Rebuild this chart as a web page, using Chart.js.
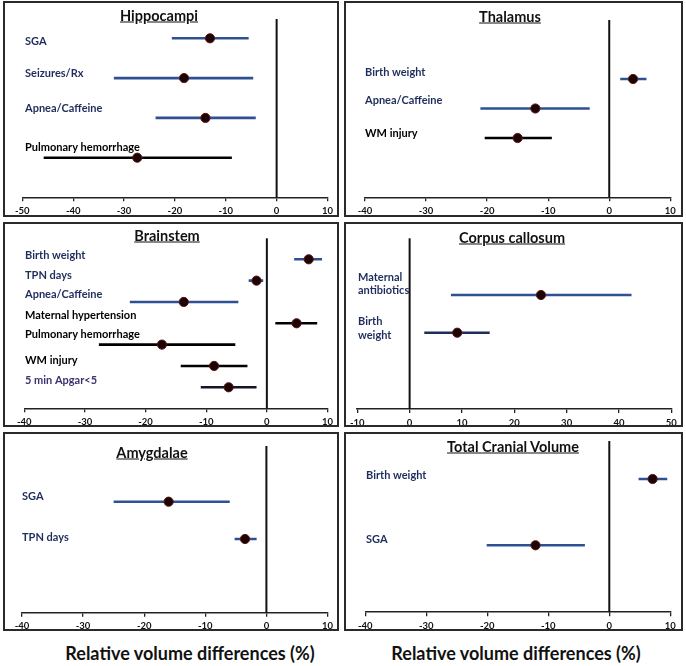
<!DOCTYPE html>
<html>
<head>
<meta charset="utf-8">
<script src="https://cdn.jsdelivr.net/npm/chart.js@4.4.1/dist/chart.umd.min.js"></script>
<style>
  body { margin: 0; background: #fff; width: 686px; height: 666px; position: relative; overflow: hidden; font-family: Lato, sans-serif; }
  .box { position: absolute; border: 2px solid #2a2a2a; box-sizing: border-box; background: #fff; }
  .box canvas { position: absolute; left: 0; top: 0; }
  .ttl { position: absolute; font-weight: 700; font-size: 14.5px; text-decoration: underline; transform: translate(-50%, -50%); white-space: nowrap; color: #111; }
  .xt { position: absolute; font-weight: 700; font-size: 18px; transform: translate(-50%, -50%); white-space: nowrap; color: #111; }
</style>
</head>
<body>
<div class="xt" style="left:190px;top:653px">Relative volume differences (%)</div>
<div class="xt" style="left:516px;top:653px">Relative volume differences (%)</div>
<script>
// Hippocampi
const hippoLabels = ['SGA', 'Seizures/Rx', 'Apnea/Caffeine', 'Pulmonary hemorrhage'];
const hippoMean = [-13.1, -18.2, -14.0, -27.4];
const hippoLow = [-20.6, -32.0, -23.8, -45.8];
const hippoHigh = [-5.5, -4.6, -4.1, -8.8];
const hippoRange = [-50, 10];

// Thalamus
const thalLabels = ['Birth weight', 'Apnea/Caffeine', 'WM injury'];
const thalMean = [3.9, -12.1, -15.0];
const thalLow = [1.8, -21.1, -20.4];
const thalHigh = [6.1, -3.2, -9.4];
const thalRange = [-40, 10];

// Brainstem
const brainLabels = ['Birth weight', 'TPN days', 'Apnea/Caffeine', 'Maternal hypertension', 'Pulmonary hemorrhage', 'WM injury', '5 min Apgar<5'];
const brainMean = [6.9, -1.7, -13.7, 4.9, -17.3, -8.7, -6.3];
const brainLow = [4.5, -3.0, -22.6, 1.4, -27.7, -14.2, -10.9];
const brainHigh = [9.1, -0.6, -4.7, 8.3, -5.2, -3.2, -1.7];
const brainRange = [-40, 10];

// Corpus callosum
const ccLabels = [['Maternal', 'antibiotics'], ['Birth', 'weight']];
const ccMean = [25.1, 9.1];
const ccLow = [7.9, 2.8];
const ccHigh = [42.4, 15.3];
const ccRange = [-10, 50];

// Amygdalae
const amyLabels = ['SGA', 'TPN days'];
const amyMean = [-16.0, -3.5];
const amyLow = [-25.0, -5.2];
const amyHigh = [-6.0, -1.6];
const amyRange = [-40, 10];

// Total Cranial Volume
const tcvLabels = ['Birth weight', 'SGA'];
const tcvMean = [7.1, -12.1];
const tcvLow = [4.8, -20.1];
const tcvHigh = [9.5, -4.0];
const tcvRange = [-40, 10];

// couleurs / placement (page px)
const BLUE = '#2f5193';
const NAVY = '#1f2d5c';
const BLACK = '#000';
const AXIS_H = 18;

const layouts = {
  hippo: { box: [3, 1, 336, 216], x0: 22.3, x1: 328.3, top: 19, bottom: 197.3, row0: 38.3, gap: 39.8, labelX: 25, title: [159, 15],
    shifts: [3.4, -4.3, -9, -10], colors: [BLUE, BLUE, BLUE, BLACK], text: [NAVY, NAVY, NAVY, BLACK] },
  thal: { box: [344, 1, 339, 216], x0: 365, x1: 670.3, top: 20, bottom: 197.3, row0: 79, gap: 29.5, labelX: 365, title: [510, 16],
    shifts: [-7, -8, -4.7], colors: [BLUE, BLUE, BLACK], text: [NAVY, NAVY, BLACK] },
  brain: { box: [3, 222, 336, 205], x0: 24.3, x1: 328.3, top: 238.3, bottom: 408.3, row0: 259.3, gap: 21.33, labelX: 25, title: [167, 235],
    shifts: [-4.3, -5, -8, -7.7, -9.7, -5.3, -6.6], colors: [BLUE, BLUE, BLUE, BLACK, BLACK, BLACK, '#15152a'],
    text: [NAVY, NAVY, NAVY, BLACK, BLACK, BLACK, '#3c3370'] },
  cc: { box: [344, 222, 339, 205], x0: 357, x1: 671.3, top: 238.3, bottom: 409, row0: 295, gap: 37.7, labelX: 358, title: [512, 237],
    shifts: [-4.3, 2.3], colors: [BLUE, NAVY], text: [NAVY, NAVY] },
  amy: { box: [3, 432, 336, 199], x0: 22, x1: 328.3, top: 446, bottom: 612.7, row0: 501.7, gap: 37.3, labelX: 22, title: [152, 452],
    shifts: [-5, -1.7], colors: [BLUE, BLUE], text: [NAVY, NAVY] },
  tcv: { box: [344, 432, 339, 199], x0: 365.3, x1: 670.3, top: 441, bottom: 612.3, row0: 479, gap: 66.3, labelX: 366, title: [513, 446],
    shifts: [-4, -6.3], colors: [BLUE, BLUE], text: [NAVY, NAVY] }
};

function buildPanel(title, labels, mean, low, high, range, lay) {
  const [bl, bt, bw, bh] = lay.box;
  const box = document.createElement('div');
  box.className = 'box';
  Object.assign(box.style, { left: bl + 'px', top: bt + 'px', width: bw + 'px', height: bh + 'px' });
  document.body.appendChild(box);

  const iw = bw - 4, ih = bh - 4, ox = bl + 2, oy = bt + 2;
  const canvas = document.createElement('canvas');
  canvas.width = iw;
  canvas.height = ih;
  box.appendChild(canvas);

  const t = document.createElement('div');
  t.className = 'ttl';
  t.textContent = title;
  t.style.left = (lay.title[0] - ox) + 'px';
  t.style.top = (lay.title[1] - oy) + 'px';
  box.appendChild(t);

  const yMin = -(lay.row0 - lay.top) / lay.gap;
  const yMax = (lay.bottom - lay.row0) / lay.gap;

  // barres d'intervalle
  const datasets = labels.map((lab, i) => ({
    type: 'line',
    data: [{ x: low[i], y: i }, { x: high[i], y: i }],
    borderColor: lay.colors[i],
    borderWidth: 2.6,
    pointRadius: 0,
    order: 2
  }));
  // estimations ponctuelles
  datasets.push({
    type: 'scatter',
    data: mean.map((m, i) => ({ x: m, y: i })),
    pointRadius: 4.6,
    backgroundColor: '#1c0404',
    borderColor: '#5b1414',
    borderWidth: 1,
    order: 1
  });

  const zeroLine = {
    id: 'zeroLine',
    beforeDatasetsDraw(chart) {
      const { ctx, chartArea, scales } = chart;
      const px = scales.x.getPixelForValue(0);
      ctx.save();
      ctx.strokeStyle = '#111';
      ctx.lineWidth = 2;
      ctx.beginPath();
      ctx.moveTo(px, chartArea.top);
      ctx.lineTo(px, chartArea.bottom);
      ctx.stroke();
      ctx.restore();
    }
  };

  const rowLabels = {
    id: 'rowLabels',
    afterDraw(chart) {
      const { ctx, scales } = chart;
      ctx.save();
      ctx.font = 'bold 11px Lato';
      ctx.textBaseline = 'middle';
      ctx.textAlign = 'left';
      labels.forEach((lab, i) => {
        const lines = Array.isArray(lab) ? lab : [lab];
        const baseY = scales.y.getPixelForValue(i) + lay.shifts[i];
        ctx.fillStyle = lay.text[i];
        lines.forEach((ln, j) => {
          ctx.fillText(ln, lay.labelX - ox, baseY - (lines.length - 1 - j) * 13.3);
        });
      });
      ctx.restore();
    }
  };

  new Chart(canvas, {
    type: 'scatter',
    data: { datasets },
    options: {
      responsive: false,
      animation: false,
      layout: {
        padding: {
          left: lay.x0 - ox,
          right: iw - (lay.x1 - ox),
          top: lay.top - oy,
          bottom: ih - (lay.bottom - oy) - AXIS_H
        }
      },
      plugins: { legend: { display: false }, tooltip: { enabled: false } },
      scales: {
        x: {
          type: 'linear',
          min: range[0],
          max: range[1],
          ticks: { stepSize: 10, color: '#111', font: { family: 'Lato', weight: 'bold', size: 9.5 }, padding: 4, maxRotation: 0 },
          grid: { drawOnChartArea: false, drawTicks: true, tickLength: 4, color: '#222', lineWidth: 1.3 },
          border: { display: true, color: '#222', width: 1.6 },
          afterFit: s => { s.height = AXIS_H; }
        },
        y: { type: 'linear', display: false, min: yMin, max: yMax, reverse: true }
      }
    },
    plugins: [zeroLine, rowLabels]
  });
}

function drawAll() {
  buildPanel('Hippocampi', hippoLabels, hippoMean, hippoLow, hippoHigh, hippoRange, layouts.hippo);
  buildPanel('Thalamus', thalLabels, thalMean, thalLow, thalHigh, thalRange, layouts.thal);
  buildPanel('Brainstem', brainLabels, brainMean, brainLow, brainHigh, brainRange, layouts.brain);
  buildPanel('Corpus callosum', ccLabels, ccMean, ccLow, ccHigh, ccRange, layouts.cc);
  buildPanel('Amygdalae', amyLabels, amyMean, amyLow, amyHigh, amyRange, layouts.amy);
  buildPanel('Total Cranial Volume', tcvLabels, tcvMean, tcvLow, tcvHigh, tcvRange, layouts.tcv);
}

// attendre la police grasse avant de dessiner sur le canvas
document.fonts.load('bold 11px Lato').then(drawAll, drawAll);
</script>
</body>
</html>
